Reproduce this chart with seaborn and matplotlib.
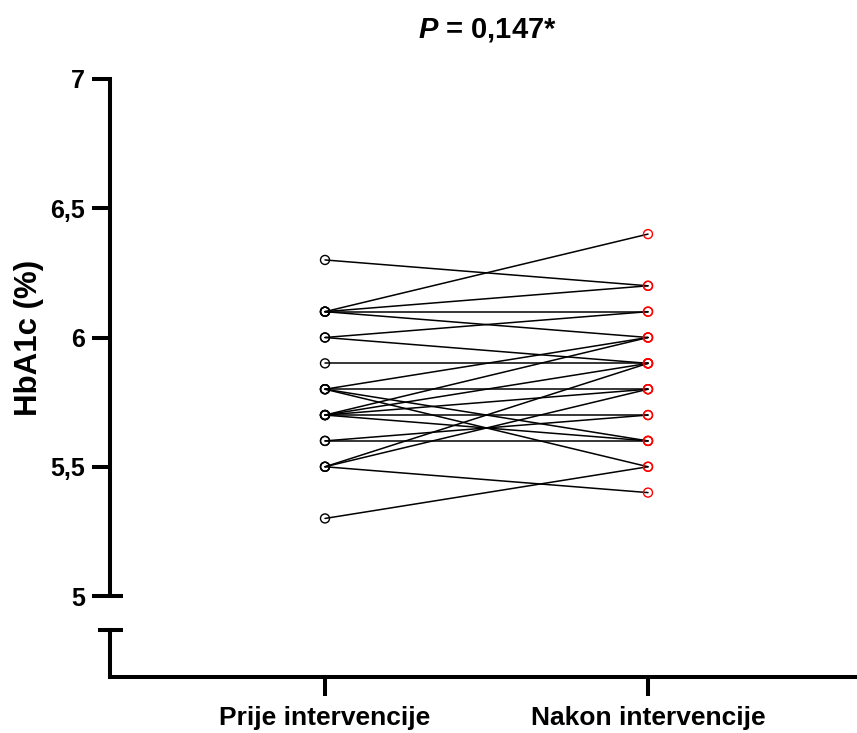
import numpy as np
import pandas as pd
import matplotlib
matplotlib.use("Agg")
import matplotlib.pyplot as plt
import seaborn as sns
from matplotlib.lines import Line2D

# Data: paired HbA1c values (before, after)
before = [6.3, 6.1, 6.1, 6.1, 6.1, 6.0, 6.0, 5.9, 5.8, 5.8, 5.8, 5.8,
          5.7, 5.7, 5.7, 5.7, 5.7, 5.6, 5.6, 5.5, 5.5, 5.5, 5.3]
after = [6.2, 6.4, 6.2, 6.1, 6.0, 6.1, 5.9, 5.9, 6.0, 5.8, 5.6, 5.5,
         6.0, 5.9, 5.8, 5.7, 5.6, 5.7, 5.6, 5.9, 5.8, 5.4, 5.5]
categories = ["Prije intervencije", "Nakon intervencije"]
y_ticks = [5, 5.5, 6, 6.5, 7]
y_ticklabels = ["5", "5,5", "6", "6,5", "7"]
title_text = "$P$ = 0,147*"
ylabel_text = "HbA1c (%)"

sns.set_style("white")
plt.rcParams['font.family'] = ['Liberation Sans', 'DejaVu Sans']
plt.rcParams['mathtext.fontset'] = 'custom'
plt.rcParams['mathtext.it'] = 'Liberation Sans:italic:bold'
plt.rcParams['mathtext.rm'] = 'Liberation Sans:bold'
for k in ['text.color', 'xtick.color', 'ytick.color', 'axes.labelcolor']:
    plt.rcParams[k] = 'black'

n = len(before)
df = pd.DataFrame({
    "id": list(range(n)) * 2,
    "time": [0] * n + [1] * n,
    "value": before + after,
    "group": [categories[0]] * n + [categories[1]] * n,
})

fig = plt.figure(figsize=(8.57, 7.33), dpi=100)
ax = fig.add_axes([110 / 857, 1 - 677 / 733, 747 / 857, (677 - 79) / 733])

sns.lineplot(data=df, x="time", y="value", units="id", estimator=None,
             color="black", lw=1.1, ax=ax, legend=False)
sns.scatterplot(data=df, x="time", y="value", hue="group",
                palette={categories[0]: "black", categories[1]: "red"},
                marker="o", s=42, linewidth=1.0,
                ax=ax, legend=False, zorder=3)
# hollow markers with coloured edges
for coll in ax.collections:
    fc = coll.get_facecolors()
    coll.set_edgecolors(fc)
    coll.set_facecolor("none")

ymin = 5 - (677 - 596) / 258.5
ax.set_ylim(ymin, 7)
ax.set_xlim(-215 / 323, 1 + 209 / 323)

lw = 2.9
ax.set_xticks([0, 1])
ax.set_xticklabels(categories, fontsize=19, fontweight="bold")
ax.set_yticks(y_ticks)
ax.set_yticklabels(y_ticklabels, fontsize=18, fontweight="bold")
ax.tick_params(axis="y", direction="out", length=13, width=lw, pad=5, left=True)
ax.tick_params(axis="x", direction="out", length=14, width=lw, pad=7, bottom=True)
ax.set_xlabel("")
ax.set_ylabel("")

for s in ["top", "right"]:
    ax.spines[s].set_visible(False)
for s in ["left", "bottom"]:
    ax.spines[s].set_linewidth(lw)
    ax.spines[s].set_color("black")
    ax.spines[s].set_capstyle("projecting")
ax.spines["left"].set_bounds(5, 7)

# axis break
tr = ax.get_yaxis_transform()
cap_y = 5 - (630 - 596) / 258.5
axw = 747.0
xl, xr = (98 - 110) / axw, (123 - 110) / axw
ax.add_line(Line2D([0, 0], [ymin, cap_y], transform=tr, color="black",
                   lw=lw, clip_on=False, solid_capstyle="projecting"))
ax.add_line(Line2D([xl, xr], [cap_y, cap_y], transform=tr, color="black",
                   lw=lw, clip_on=False, solid_capstyle="butt"))
ax.add_line(Line2D([0, xr], [5, 5], transform=tr, color="black",
                   lw=lw, clip_on=False, solid_capstyle="butt"))

fig.text(487 / 857, 1 - 30 / 733, title_text, ha="center", va="center",
         fontsize=21, fontweight="bold")
fig.text(29 / 857, 1 - 338 / 733, ylabel_text, ha="center", va="center",
         rotation=90, fontsize=22.5, fontweight="bold")

fig.savefig("out.png", dpi=100)
